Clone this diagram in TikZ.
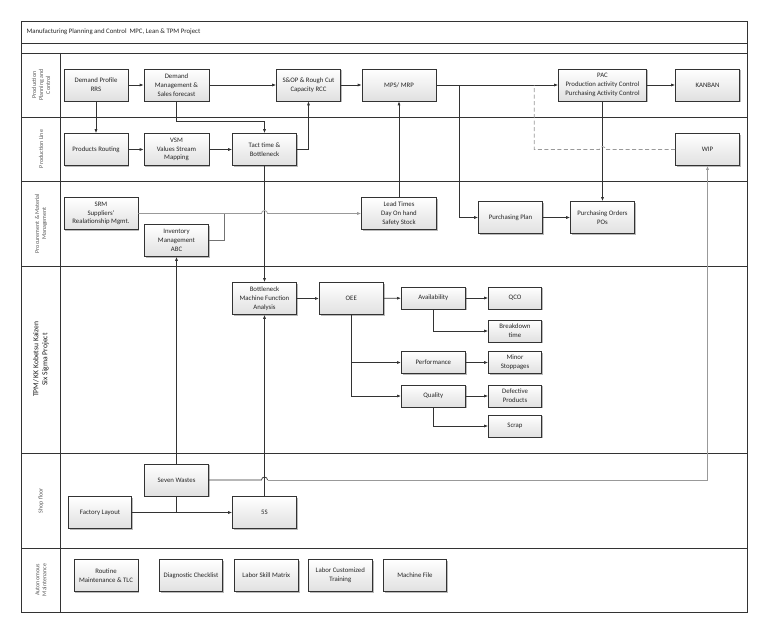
\documentclass[tikz,border=0pt]{standalone}
\usepackage{fontspec}
\setmainfont{Carlito}
\usetikzlibrary{arrows.meta,shadows,calc}
\begin{document}
\begin{tikzpicture}[x=1pt,y=-1pt,
  font=\fontsize{6.8}{8.8}\selectfont,
  box/.style={draw=black!80,line width=0.6pt,top color=white,bottom color=black!12,
    drop shadow={shadow xshift=1.2pt,shadow yshift=-1.2pt,fill=black!45,opacity=0.6},
    align=center,inner sep=1pt,minimum height=32pt,text=black!85},
  sbox/.style={box,minimum height=22pt},
  conn/.style={draw=black!80,line width=0.7pt},
  arr/.style={conn,-{Latex[length=4pt,width=3pt]}},
  garr/.style={arr,draw=black!45},
  lane/.style={draw=black!80,line width=0.7pt},
  lbl/.style={rotate=90,align=center,text=black!65,inner sep=0pt,font=\fontsize{6}{7}\selectfont}]
\useasboundingbox (0,0) rectangle (768,634);
\fill[white] (0,0) rectangle (768,634);
% frame and lanes
\draw[lane] (21,21) rectangle (747,612);
\draw[lane] (21,43) -- (747,43);
\draw[lane] (21,53) -- (747,53);
\foreach \yy in {117,181,266,453,548} \draw[lane] (21,\yy) -- (747,\yy);
\draw[lane] (60.7,53) -- (60.7,612);
\node[anchor=west,text=black!85] (title) at (23,32) {Manufacturing Planning and Control\ \ MPC, Lean \& TPM Project};
\node[lbl] (l1) at (41,85) {Production\\Planning and\\Control};
\node[lbl] (l2) at (41,149) {Production Line};
\node[lbl] (l3) at (41,223.5) {Procurement \& Material\\Management};
\node[lbl,text=black!90,font=\fontsize{7.6}{9}\selectfont] (l4) at (41,359.5) {TPM/ KK Kobetsu Kaizen\\Six Sigma Project};
\node[lbl] (l5) at (41,500.5) {Shop floor};
\node[lbl] (l6) at (41,580) {Autonomous\\Maintenance};
% nodes
\node[box,minimum width=64pt] (dp) at (96,85) {Demand Profile\\RRS};
\node[box,minimum width=65pt] (dm) at (176.5,85) {Demand\\Management \&\\Sales forecast};
\node[box,minimum width=64pt] (sop) at (308.5,85) {S\&OP \& Rough Cut\\Capacity RCC};
\node[box,minimum width=74pt] (mps) at (399,85) {MPS/ MRP};
\node[box,minimum width=88pt] (pac) at (602.5,85) {PAC\\Production activity Control\\Purchasing Activity Control};
\node[box,minimum width=64pt] (kan) at (707.5,85) {KANBAN};
\node[box,minimum width=64pt] (pr) at (96,149.5) {Products Routing};
\node[box,minimum width=65pt] (vsm) at (176.5,149.5) {VSM\\Values Stream\\Mapping};
\node[box,minimum width=64pt] (tact) at (264.5,149.5) {Tact time \&\\Bottleneck};
\node[box,minimum width=64pt] (wip) at (707.5,149.5) {WIP};
\node[box,minimum width=74pt] (srm) at (101,213.5) {SRM\\Suppliers'\\Realationship Mgmt.};
\node[box,minimum width=64pt] (inv) at (176.5,240.5) {Inventory\\Management\\ABC};
\node[box,minimum width=75pt] (lt) at (399,213.5) {Lead Times\\Day On hand\\Safety Stock};
\node[box,minimum width=64pt] (pp) at (510.5,217.5) {Purchasing Plan};
\node[box,minimum width=64pt] (po) at (602.5,217.5) {Purchasing Orders\\POs};
\node[box,minimum width=64pt] (bm) at (264.5,298.5) {Bottleneck\\Machine Function\\Analysis};
\node[box,minimum width=64pt] (oee) at (351.3,298.5) {OEE};
\node[sbox,minimum width=64pt] (av) at (433.3,298) {Availability};
\node[sbox,minimum width=53pt] (qco) at (515,298) {QCO};
\node[sbox,minimum width=53pt] (bd) at (515,331) {Breakdown\\time};
\node[sbox,minimum width=64pt] (perf) at (433.3,362.5) {Performance};
\node[sbox,minimum width=53pt] (ms) at (515,362.5) {Minor\\Stoppages};
\node[sbox,minimum width=64pt] (qual) at (433.3,396) {Quality};
\node[sbox,minimum width=53pt] (dfp) at (515,396) {Defective\\Products};
\node[sbox,minimum width=53pt] (scr) at (515,426) {Scrap};
\node[box,minimum width=64pt] (sw) at (176.5,480) {Seven Wastes};
\node[box,minimum width=63pt] (fl) at (100,512.5) {Factory Layout};
\node[box,minimum width=64pt] (s5) at (264.5,512.5) {5S};
\node[box,minimum width=64pt] (rm) at (106,575.5) {Routine\\Maintenance \& TLC};
\node[box,minimum width=63pt] (dc) at (191,575.5) {Diagnostic Checklist};
\node[box,minimum width=64pt] (lsm) at (266.3,575.5) {Labor Skill Matrix};
\node[box,minimum width=64pt] (lct) at (340.3,575.5) {Labor Customized\\Training};
\node[box,minimum width=63pt] (mf) at (415,575.5) {Machine File};
% helper coordinates
\coordinate (r1) at (0,121);
\coordinate (j1) at (224,213.5);
\coordinate (b1) at (459.3,85);
\coordinate (d1) at (534.3,85);
\coordinate (d2) at (534.3,149.5);
% connectors, planning lane
\draw[arr] (dp) -- (dm);
\draw[arr] (dm) -- (sop);
\draw[arr] (sop) -- (mps);
\draw[arr] (mps) -- (pac);
\draw[arr] (pac) -- (kan);
\draw[arr] (dp.south) -- (pr.north);
\draw[arr] (dm.south) -- (dm.south |- r1) -| (tact.north);
\draw[arr] (pr) -- (vsm);
\draw[arr] (vsm) -- (tact);
\draw[arr] (tact.east) -| (sop.south);
\draw[arr] (tact.south) -- (bm.north);
% procurement
\draw[garr,draw=black!40] (srm.east) -- (261.5,213.5) arc[start angle=180,end angle=360,radius=3] -- (lt.west);
\draw[conn,draw=black!55] (inv.east) -| (j1);
\draw[arr] (lt.north) -- (mps.south);
\draw[arr] (b1) |- (pp.west);
\draw[arr] (pp) -- (po);
\draw[arr] (pac.south) -- (po.north);
\draw[conn,draw=black!40,dashed,dash pattern=on 4pt off 2.5pt] (wip.west) -- (605.5,149.5) arc[start angle=0,end angle=-180,radius=3] -- (d2) -- (d1);
% TPM
\draw[arr] (bm) -- (oee);
\draw[arr] (oee) -- (av);
\draw[arr] (av) -- (qco);
\draw[arr] (av.south) |- (bd.west);
\draw[arr] (oee.south) |- (perf.west);
\draw[arr] (oee.south) |- (qual.west);
\draw[arr] (perf) -- (ms);
\draw[arr] (qual) -- (dfp);
\draw[arr] (qual.south) |- (scr.west);
% shop floor
\draw[arr] (sw.north) -- (inv.south);
\draw[conn] (sw.south) -- (sw.south |- fl.east);
\draw[arr] (fl) -- (s5);
\draw[arr] (s5.north) -- (bm.south);
\draw[conn] (sw.east) -- (261.5,480) arc[start angle=180,end angle=360,radius=3];
\draw[garr,draw=black!40] (267.5,480) -| (wip.south);
\end{tikzpicture}
\end{document}
